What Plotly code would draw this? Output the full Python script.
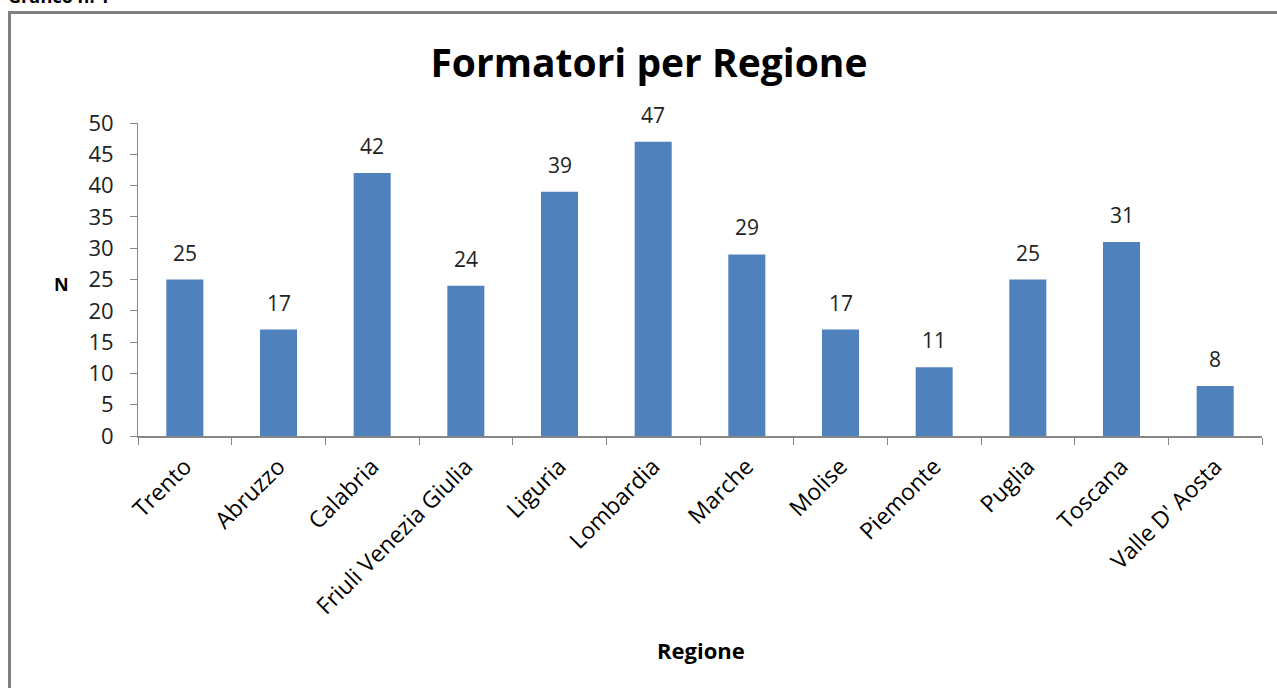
import plotly.graph_objects as go

regioni = ["Trento", "Abruzzo", "Calabria", "Friuli Venezia Giulia", "Liguria", "Lombardia",
           "Marche", "Molise", "Piemonte", "Puglia", "Toscana", "Valle D' Aosta"]
valori = [25, 17, 42, 24, 39, 47, 29, 17, 11, 25, 31, 8]
y_ticks = [0, 5, 10, 15, 20, 25, 30, 35, 40, 45, 50]

W, H = 1277, 688
L, R, T, B = 138, 15, 123, 252
pw, ph = W - L - R, H - T - B

def px_x(x):
    return (x - L) / pw

def px_y(y):
    return (H - B - y) / ph

FONT = "Open Sans, Noto Sans, sans-serif"

fig = go.Figure(go.Bar(
    x=regioni, y=valori,
    marker=dict(color="#4F81BD", line=dict(width=0)),
))

labels = [dict(x=r, y=v, xref="x", yref="y", text=str(v), showarrow=False,
               yanchor="middle", yshift=27,
               font=dict(family=FONT, size=21, color="#222222"))
          for r, v in zip(regioni, valori)]

fig.update_layout(
    width=W, height=H,
    margin=dict(l=L, r=R, t=T, b=B, autoexpand=False),
    paper_bgcolor="white", plot_bgcolor="white",
    bargap=0.605, showlegend=False,
    title=dict(text="<b>Formatori per Regione</b>", x=649 / W, xanchor="center",
               y=1 - 63 / H, yanchor="middle",
               font=dict(family=FONT, size=39, color="black")),
    xaxis=dict(
        tickangle=-45, tickfont=dict(family=FONT, size=23, color="black"),
        showline=True, linecolor="#868686", linewidth=2,
        ticks="outside", tickson="boundaries", ticklen=7, tickcolor="#868686", tickwidth=1,
        showgrid=False, automargin=False, ticklabelstandoff=6,
    ),
    yaxis=dict(
        range=[0, 50], tickvals=y_ticks, tickfont=dict(family=FONT, size=22, color="#222222"),
        showline=True, linecolor="#868686", linewidth=1,
        ticks="outside", ticklen=7, tickcolor="#868686", showgrid=False, zeroline=False,
        automargin=False, ticklabelstandoff=12,
    ),
    shapes=[
        dict(type="line", xref="paper", yref="paper", x0=px_x(9.5), x1=px_x(9.5), y0=px_y(12), y1=px_y(700),
             line=dict(color="#808080", width=3)),
        dict(type="line", xref="paper", yref="paper", x0=px_x(8), x1=px_x(1290), y0=px_y(12.5), y1=px_y(12.5),
             line=dict(color="#808080", width=3)),
    ],
    annotations=labels + [
        dict(text="<b>N</b>", xref="paper", yref="paper", x=px_x(61), y=px_y(284),
             xanchor="center", yanchor="middle", showarrow=False,
             font=dict(family=FONT, size=18, color="black")),
        dict(text="<b>Regione</b>", xref="paper", yref="paper", x=px_x(701), y=px_y(650),
             xanchor="center", yanchor="middle", showarrow=False,
             font=dict(family=FONT, size=22, color="black")),
        dict(text="<b>Grafico n. 1</b>", xref="paper", yref="paper", x=px_x(6), y=px_y(-4),
             xanchor="left", yanchor="middle", showarrow=False,
             font=dict(family=FONT, size=18, color="black")),
    ],
)

fig.write_html("out.html", config={"displayModeBar": False},
               post_script="document.body.style.margin='0';document.body.style.overflow='hidden';")
